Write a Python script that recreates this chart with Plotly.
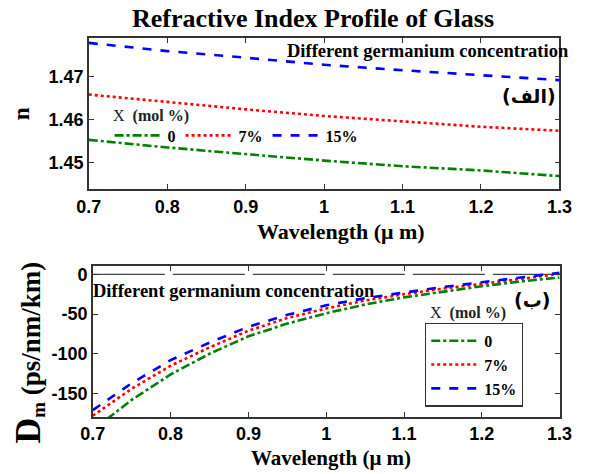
import plotly.graph_objects as go

# ---------------- data ----------------
wl_top = [0.7, 0.8, 0.9, 1.0, 1.1, 1.2, 1.3]
n_0 = [1.45524, 1.45346, 1.45192, 1.45039, 1.44908, 1.44808, 1.44677]
n_7 = [1.46584, 1.46406, 1.46238, 1.46083, 1.45961, 1.45830, 1.45737]
n_15 = [1.47792, 1.47600, 1.47446, 1.47280, 1.47152, 1.47037, 1.46922]

wl_bot = [0.70, 0.75, 0.80, 0.85, 0.90, 0.95, 1.00, 1.05, 1.10, 1.15, 1.20, 1.25, 1.30]
D_0 = [-196, -158, -126, -100, -78, -62, -49, -38, -29, -22, -15, -9, -4]
D_7 = [-178, -144, -115, -92, -71, -55, -43, -33, -25, -18, -12, -5.5, 0.5]
D_15 = [-171, -137, -108, -86, -66, -51, -39, -30, -23, -16, -10, -4, 2]

zero_x = [0.7, 1.3]
zero_y = [0, 0]

series_names = ["0", "7%", "15%"]
colors = ["#008000", "#ff0000", "#0000ff"]
dashes = ["dashdot", "dot", "dash"]

x_ticks = [0.7, 0.8, 0.9, 1.0, 1.1, 1.2, 1.3]
x_ticktext = ["0.7", "0.8", "0.9", "1", "1.1", "1.2", "1.3"]
n_ticks = [1.45, 1.46, 1.47]
D_ticks = [0, -50, -100, -150]

W, H = 592, 474
SERIF = "Liberation Serif"
SANS = "Liberation Sans"

fig = go.Figure()

for name, col, dsh, yv in zip(series_names, colors, dashes, [n_0, n_7, n_15]):
    fig.add_trace(go.Scatter(x=wl_top, y=yv, mode="lines", name=name,
                             line=dict(color=col, dash=dsh, width=2.6),
                             xaxis="x", yaxis="y", legend="legend"))

fig.add_trace(go.Scatter(x=zero_x, y=zero_y, mode="lines", showlegend=False,
                         line=dict(color="#444444", width=1.2, dash="72px,8px"),
                         xaxis="x2", yaxis="y2"))

for name, col, dsh, yv in zip(series_names, colors, dashes, [D_0, D_7, D_15]):
    fig.add_trace(go.Scatter(x=wl_bot, y=yv, mode="lines", name=name,
                             line=dict(color=col, dash=dsh, width=2.6),
                             xaxis="x2", yaxis="y2", legend="legend2"))

def px_x(p):
    return p / W

def px_y(p):
    return 1 - p / H

axis_common = dict(showline=True, linecolor="#333333", linewidth=1.5, mirror="ticks",
                   ticks="inside", ticklen=5, tickcolor="#333333", showgrid=False,
                   zeroline=False, tickfont=dict(family=SANS, size=18, color="black", weight="bold"))

fig.update_layout(
    width=W, height=H,
    margin=dict(l=0, r=0, t=0, b=0),
    paper_bgcolor="white", plot_bgcolor="white",
    xaxis=dict(domain=[px_x(79.3), px_x(571.5)], range=[0.7, 1.3], anchor="y",
               tickvals=x_ticks, ticktext=x_ticktext, **axis_common),
    yaxis=dict(domain=[px_y(188), px_y(36)], range=[1.4437, 1.4791], anchor="x",
               tickvals=n_ticks, ticktext=["1.45", "1.46", "1.47"], **axis_common),
    xaxis2=dict(domain=[px_x(83.5), px_x(571.7)], range=[0.7, 1.3], anchor="y2",
                tickvals=x_ticks, ticktext=x_ticktext, **axis_common),
    yaxis2=dict(domain=[px_y(416.7), px_y(265.5)], range=[-179.5, 10], anchor="x2",
                tickvals=D_ticks, ticktext=["0", "-50", "-100", "-150"], **axis_common),
    legend=dict(orientation="h", x=px_x(101), y=px_y(134), xanchor="left", yanchor="middle",
                font=dict(family=SERIF, size=16, color="black", weight="bold"),
                bgcolor="rgba(0,0,0,0)", itemwidth=48, traceorder="normal"),
    legend2=dict(orientation="v", x=px_x(431), y=px_y(322), xanchor="left", yanchor="top",
                 font=dict(family=SERIF, size=16, color="black", weight="bold"),
                 bgcolor="white", bordercolor="#333333", borderwidth=1.2,
                 itemwidth=48, traceorder="normal"),
    showlegend=True,
)

ann = []
def add_text(text, x, y, size, family=SERIF, xanchor="center", yanchor="middle", angle=0, color="black"):
    ann.append(dict(text=text, x=px_x(x), y=px_y(y), xref="paper", yref="paper",
                    xanchor=xanchor, yanchor=yanchor, showarrow=False, textangle=angle,
                    font=dict(family=family, size=size, color=color)))

add_text("<b>Refractive Index Profile of Glass</b>", 314, 17, 26)
add_text("<b>Wavelength (\u03bc m)</b>", 343, 230, 22)
add_text("<b>Wavelength (\u03bc m)</b>", 333, 458, 21)
add_text("<b>n</b>", 9, 112, 23, angle=-90)
add_text("<b><span style='font-size:36px'>D</span><sub>m</sub> (ps/nm/km)</b>", 16, 352, 27, angle=-90)
add_text("<b>Different germanium concentration</b>", 434, 49, 18.5)
add_text("<b>Different germanium concentration</b>", 231, 290, 18.5)
add_text("<b>(\u0627\u0644\u0641)</b>", 570, 94, 19, family="DejaVu Sans", xanchor="right")
add_text("<b>(\u0628)</b>", 564, 299, 19, family="DejaVu Sans", xanchor="right")
add_text("X  <b>(mol %)</b>", 102, 114, 16, xanchor="left", color="#222222")
add_text("X  <b>(mol %)</b>", 434, 312, 16, xanchor="left", color="#222222")
fig.update_layout(annotations=ann)

fig.write_html("out.html")
